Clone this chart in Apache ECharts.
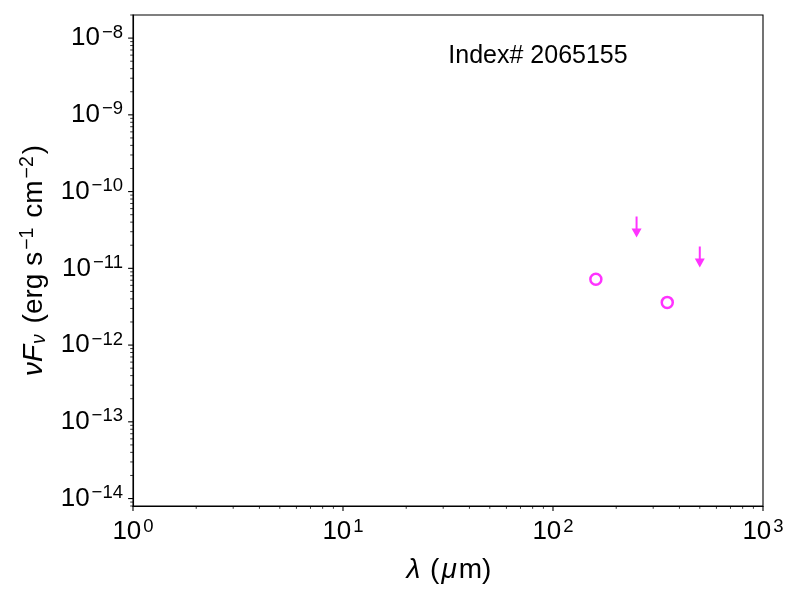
<!DOCTYPE html>
<html><head><meta charset="utf-8">
<script src="https://cdn.jsdelivr.net/npm/echarts@6/dist/echarts.min.js"></script>
<style>html,body{margin:0;padding:0;background:#fff}#c{width:800px;height:600px}</style>
</head><body><div id="c"></div>
<script>
// ---- data ----
const detectedWavelength = [160, 350];
const detectedFlux = [7.2e-12, 3.6e-12];
const upperLimitWavelength = [250, 500];
const upperLimitFlux = [3.46e-11, 1.40e-11];
const xRange = [1, 1000];
const yRange = [8e-15, 2e-8];
const xMajorExp = [0, 1, 2, 3];
const yMajorExp = [-15, -14, -13, -12, -11, -10, -9, -8];
const minorMult = [2, 3, 4, 5, 6, 7, 8, 9];
const annotationText = 'Index# 2065155';

const F = '"Liberation Sans", Arial, Helvetica, sans-serif';
const MAG = '#ff00ff';

// tick marks (drawn through the axes' own scales)
const tickData = [];
xMajorExp.forEach(e => {
  tickData.push([Math.pow(10, e), yRange[0], 0]);
  if (e < 3) minorMult.forEach(m => tickData.push([m * Math.pow(10, e), yRange[0], 1]));
});
yMajorExp.forEach(e => {
  const v = Math.pow(10, e);
  if (v >= yRange[0] && v <= yRange[1]) tickData.push([xRange[0], v, 2]);
  minorMult.forEach(m => {
    const mv = m * Math.pow(10, e);
    if (mv >= yRange[0] * 0.9999 && mv <= yRange[1] * 1.0001) tickData.push([xRange[0], mv, 3]);
  });
});

function powLabel(v) {
  const l = Math.log10(v);
  const e = Math.round(l);
  if (Math.abs(l - e) > 1e-6) return '';
  return '{b|10}{s|' + (e < 0 ? '\u2212' : '') + Math.abs(e) + '}';
}
const labelRich = {
  b: { fontSize: 26, fontFamily: F, color: '#000', lineHeight: 30 },
  s: { fontSize: 18.5, fontFamily: F, color: '#000', lineHeight: 18, verticalAlign: 'top', padding: [0, 0, 0, 2] }
};

const chart = echarts.init(document.getElementById('c'), null, { renderer: 'canvas' });
chart.setOption({
  backgroundColor: '#fff',
  animation: false,
  grid: { left: 133, right: 37, top: 15, bottom: 94, show: true, borderColor: '#000', borderWidth: 1.1, backgroundColor: 'transparent' },
  xAxis: {
    type: 'log', logBase: 10, min: xRange[0], max: xRange[1],
    axisLine: { show: true, lineStyle: { color: '#000', width: 1.1 } },
    axisTick: { show: false }, splitLine: { show: false },
    axisLabel: { formatter: powLabel, rich: labelRich, margin: 11, showMinLabel: true, showMaxLabel: true },
    name: '{i|\u03bb} ({i|\u03bc}m)', nameLocation: 'middle', nameGap: 50,
    nameTextStyle: { fontSize: 28, fontFamily: F, color: '#000',
      rich: { i: { fontSize: 28, fontFamily: F, fontStyle: 'italic', color: '#000', padding: [0, 2, 0, 2] } } }
  },
  yAxis: {
    type: 'log', logBase: 10, min: yRange[0], max: yRange[1],
    axisLine: { show: true, lineStyle: { color: '#000', width: 1.1 } },
    axisTick: { show: false }, splitLine: { show: false },
    axisLabel: { formatter: powLabel, rich: labelRich, margin: 10 },
    name: '{i|\u03bdF}{sub|\u03bd} (erg s{sup|\u22121} cm{sup|\u22122})', nameLocation: 'middle', nameGap: 80, nameRotate: 90,
    nameTextStyle: { fontSize: 28, fontFamily: F, color: '#000', lineHeight: 32,
      rich: {
        i: { fontSize: 28, fontFamily: F, fontStyle: 'italic', color: '#000', lineHeight: 32 },
        sub: { fontSize: 19.5, fontFamily: F, fontStyle: 'italic', color: '#000', lineHeight: 20, verticalAlign: 'bottom', padding: [0, 3, 0, 1] },
        sup: { fontSize: 19.5, fontFamily: F, color: '#000', lineHeight: 20, verticalAlign: 'top', padding: [0, 2, 0, 2] }
      } }
  },
  graphic: [{
    type: 'text', x: 538, y: 56, silent: true,
    style: { text: annotationText, font: '25px ' + F, fill: '#000', align: 'center', verticalAlign: 'middle', textAlign: 'center', textVerticalAlign: 'middle' }
  }],
  series: [
    {
      type: 'custom', silent: true, clip: false, z: 1,
      data: tickData,
      renderItem: function (params, api) {
        const kind = api.value(2);
        const p = api.coord([api.value(0), api.value(1)]);
        const major = (kind === 0 || kind === 2);
        const len = major ? 4.9 : 2.8;
        const w = major ? 1.1 : 0.8;
        if (kind < 2) {
          return { type: 'line', shape: { x1: p[0], y1: p[1], x2: p[0], y2: p[1] + len }, style: { stroke: '#000', lineWidth: w } };
        }
        return { type: 'line', shape: { x1: p[0], y1: p[1], x2: p[0] - len, y2: p[1] }, style: { stroke: '#000', lineWidth: w } };
      }
    },
    {
      type: 'scatter', z: 5,
      data: detectedWavelength.map((x, i) => [x, detectedFlux[i]]),
      symbol: 'circle', symbolSize: 11,
      itemStyle: { color: 'rgba(0,0,0,0)', borderColor: MAG, borderWidth: 2.5 }
    },
    {
      type: 'scatter', z: 5,
      data: upperLimitWavelength.map((x, i) => [x, upperLimitFlux[i]]),
      symbol: 'path://M4,0L6,0L6,13L4,13Z M0,12L10,12L5,21Z', symbolSize: [10, 21],
      itemStyle: { color: MAG }
    }
  ]
});
</script></body></html>
